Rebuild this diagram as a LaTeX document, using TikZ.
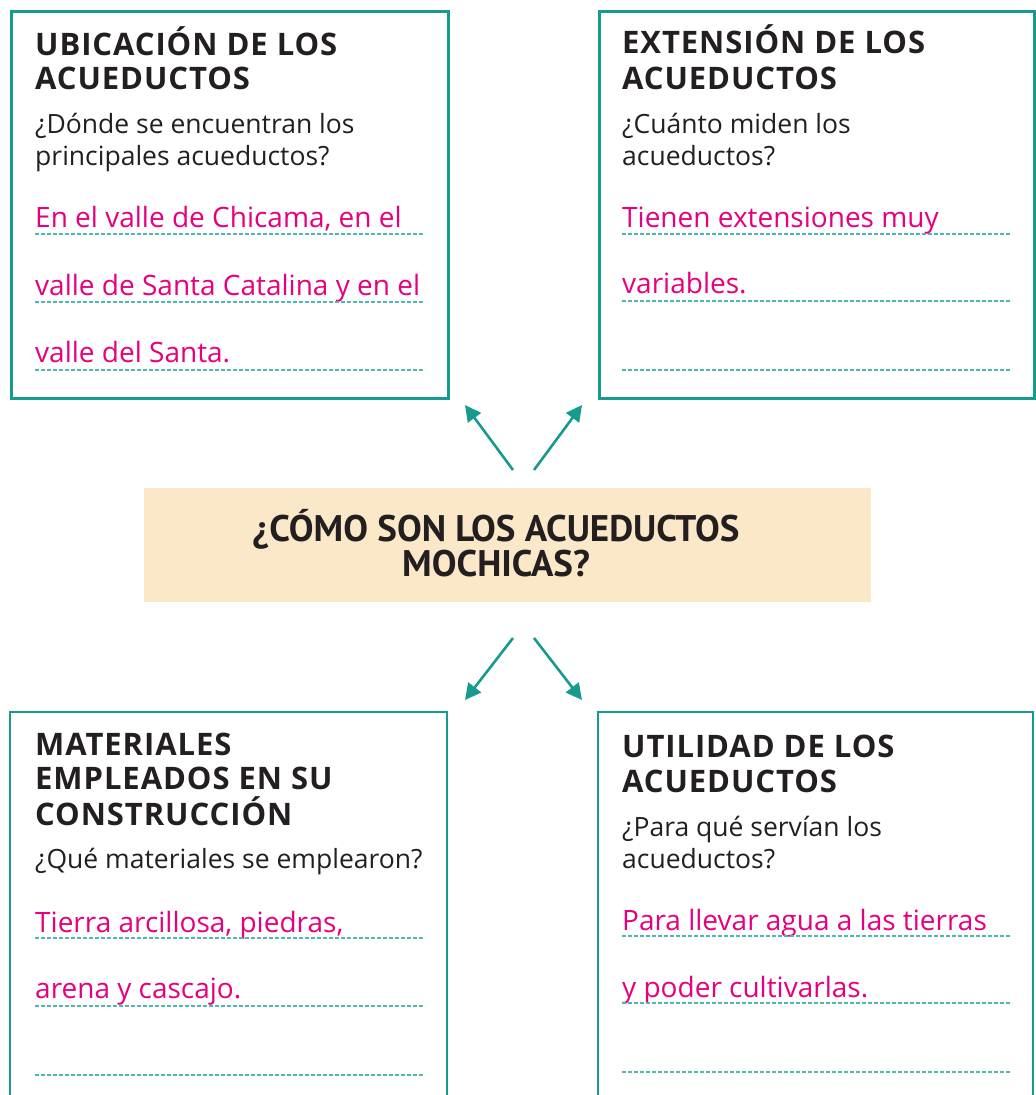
\documentclass[tikz,border=0pt]{standalone}
\usepackage{fontspec}
\setmainfont{Open Sans}
\newfontfamily\headfont[LetterSpace=3]{Open Sans}
\newfontfamily\centerfont{PT Sans}
\usetikzlibrary{arrows.meta}
\definecolor{teal}{HTML}{169B8E}
\definecolor{dashteal}{HTML}{4FB8AE}
\definecolor{pinkt}{HTML}{E6007E}
\definecolor{cream}{HTML}{FBE8C8}
\definecolor{ink}{HTML}{231F20}
\tikzset{
  frame/.style={draw=teal, line width=2.6pt},
  head/.style={anchor=base west, inner sep=0, font=\headfont\bfseries\fontsize{31}{31}\selectfont, text=ink},
  body/.style={anchor=base west, inner sep=0, font=\fontsize{26.5}{26.5}\selectfont, text=ink},
  answer/.style={anchor=base west, inner sep=0, font=\fontsize{28}{28}\selectfont, text=pinkt},
  rule/.style={draw=dashteal, line width=1.2pt, dash pattern=on 3.5pt off 2.5pt},
  link/.style={draw=teal, line width=2.6pt, -{Triangle[length=16pt,width=16pt]}}
}
\begin{document}
\begin{tikzpicture}[x=1pt,y=-1pt]
\useasboundingbox (0,0) rectangle (1036,1095);
% boxes
\node[frame, minimum width=437pt, minimum height=387pt, anchor=north west, inner sep=0] (b1) at (10,10) {};
\node[frame, minimum width=435pt, minimum height=387pt, anchor=north west, inner sep=0] (b2) at (598,10) {};
\draw[frame] (10,1097) coordinate (b3a) -- (10,712) coordinate (b3b) -- (447,712) coordinate (b3c) -- (447,1097) coordinate (b3d);
\draw[frame] (598,1097) coordinate (b4a) -- (598,712) coordinate (b4b) -- (1033,712) coordinate (b4c) -- (1033,1097) coordinate (b4d);
\node[fill=cream, minimum width=727pt, minimum height=114pt, anchor=north west, inner sep=0] (c) at (144,488) {};
\node[anchor=base, inner sep=0, font=\centerfont\bfseries\fontsize{37}{37}\selectfont, text=ink] (c1) at (496,541) {¿CÓMO SON LOS ACUEDUCTOS};
\node[anchor=base, inner sep=0, font=\centerfont\bfseries\fontsize{37}{37}\selectfont, text=ink] (c2) at (496,576) {MOCHICAS?};
% arrows
\coordinate (s1) at (513,470); \coordinate (e1) at (465,405);
\coordinate (s2) at (534,470); \coordinate (e2) at (582,405);
\coordinate (s3) at (513,638); \coordinate (e3) at (465,700);
\coordinate (s4) at (534,638); \coordinate (e4) at (582,700);
\draw[link] (s1) -- (e1);
\draw[link] (s2) -- (e2);
\draw[link] (s3) -- (e3);
\draw[link] (s4) -- (e4);
% box 1
\node[head] (h1a) at (35,55) {UBICACIÓN DE LOS};
\node[head] (h1b) at (35,89) {ACUEDUCTOS};
\node[body] (q1a) at (35,133) {¿Dónde se encuentran los};
\node[body] (q1b) at (35,165) {principales acueductos?};
\node[answer] (a1a) at (35,227) {En el valle de Chicama, en el};
\node[answer] (a1b) at (35,295) {valle de Santa Catalina y en el};
\node[answer] (a1c) at (35,362) {valle del Santa.};
\coordinate (l1as) at (35,234); \coordinate (l1ae) at (425,234);
\coordinate (l1bs) at (35,302); \coordinate (l1be) at (425,302);
\coordinate (l1cs) at (35,370); \coordinate (l1ce) at (425,370);
\draw[rule] (l1as) -- (l1ae); \draw[rule] (l1bs) -- (l1be); \draw[rule] (l1cs) -- (l1ce);
% box 2
\node[head] (h2a) at (622,53) {EXTENSIÓN DE LOS};
\node[head] (h2b) at (622,89) {ACUEDUCTOS};
\node[body] (q2a) at (622,133) {¿Cuánto miden los};
\node[body] (q2b) at (622,165) {acueductos?};
\node[answer] (a2a) at (622,227) {Tienen extensiones muy};
\node[answer] (a2b) at (622,293) {variables.};
\coordinate (l2as) at (622,234); \coordinate (l2ae) at (1012,234);
\coordinate (l2bs) at (622,301); \coordinate (l2be) at (1012,301);
\coordinate (l2cs) at (622,370); \coordinate (l2ce) at (1012,370);
\draw[rule] (l2as) -- (l2ae); \draw[rule] (l2bs) -- (l2be); \draw[rule] (l2cs) -- (l2ce);
% box 3
\node[head] (h3a) at (35,755) {MATERIALES};
\node[head] (h3b) at (35,789) {EMPLEADOS EN SU};
\node[head] (h3c) at (35,825) {CONSTRUCCIÓN};
\node[body] (q3a) at (35,868) {¿Qué materiales se emplearon?};
\node[answer] (a3a) at (35,932) {Tierra arcillosa, piedras,};
\node[answer] (a3b) at (35,998) {arena y cascajo.};
\coordinate (l3as) at (35,938); \coordinate (l3ae) at (425,938);
\coordinate (l3bs) at (35,1006); \coordinate (l3be) at (425,1006);
\coordinate (l3cs) at (35,1075); \coordinate (l3ce) at (425,1075);
\draw[rule] (l3as) -- (l3ae); \draw[rule] (l3bs) -- (l3be); \draw[rule] (l3cs) -- (l3ce);
% box 4
\node[head] (h4a) at (622,757) {UTILIDAD DE LOS};
\node[head] (h4b) at (622,792) {ACUEDUCTOS};
\node[body] (q4a) at (622,836) {¿Para qué servían los};
\node[body] (q4b) at (622,868) {acueductos?};
\node[answer] (a4a) at (622,930) {Para llevar agua a las tierras};
\node[answer] (a4b) at (622,997) {y poder cultivarlas.};
\coordinate (l4as) at (622,936); \coordinate (l4ae) at (1012,936);
\coordinate (l4bs) at (622,1003); \coordinate (l4be) at (1012,1003);
\coordinate (l4cs) at (622,1072); \coordinate (l4ce) at (1012,1072);
\draw[rule] (l4as) -- (l4ae); \draw[rule] (l4bs) -- (l4be); \draw[rule] (l4cs) -- (l4ce);
\end{tikzpicture}
\end{document}
